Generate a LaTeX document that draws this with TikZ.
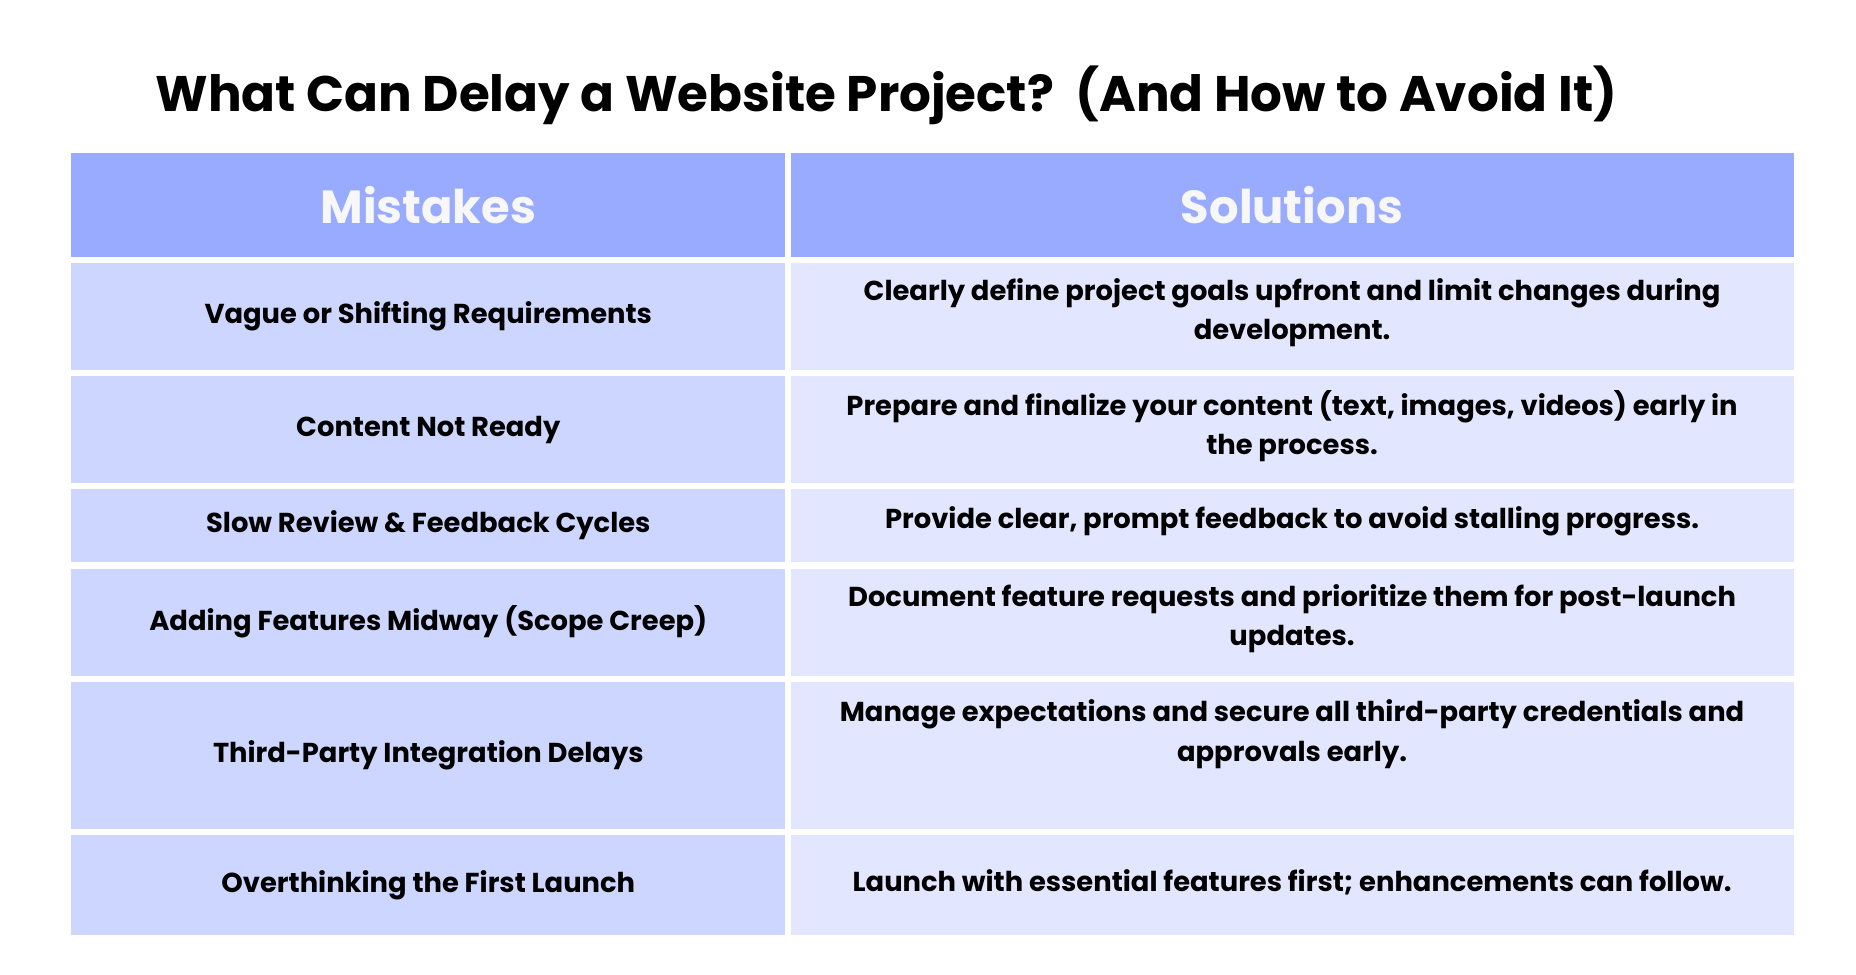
\documentclass[tikz,border=0pt]{standalone}
\usepackage{fontspec}
\setmainfont{Poppins}[BoldFont={* Bold}]
\newfontfamily\pbold{Poppins Bold}
\definecolor{hd}{HTML}{99ABFF}
\definecolor{lc}{HTML}{CDD6FF}
\definecolor{rc}{HTML}{E2E7FF}
\begin{document}
\begin{tikzpicture}[x=0.5pt,y=-0.5pt,
  hdtxt/.style={font=\pbold\fontsize{19.5}{24}\selectfont,text=white!97!black},
  ltxt/.style={font=\bfseries\fontsize{11.5}{16.5}\selectfont,align=center},
  rtxt/.style={font=\bfseries\fontsize{11.5}{16.5}\selectfont,align=center}]
\useasboundingbox[fill=white] (0,0) rectangle (1560,819.5);
\node[font=\pbold\fontsize{21}{26}\selectfont] (title) at (745,80) {What Can Delay a Website Project?\ \ (And How to Avoid It)};
\fill[hd] (60,129) rectangle (660,216);
\fill[hd] (665,129) rectangle (1508,216);
\node[hdtxt] (h1) at (360,172) {Mistakes};
\node[hdtxt] (h2) at (1086,172) {Solutions};
\foreach \t/\b/\L/\R/\ry [count=\i] in {
 221/311/{Vague or Shifting Requirements}/{Clearly define project goals upfront and limit changes during\\ development.}/263,
 316/406/{Content Not Ready}/{Prepare and finalize your content (text, images, videos) early in\\ the process.}/358,
 411/472/{Slow Review \& Feedback Cycles}/{Provide clear, prompt feedback to avoid stalling progress.}/438,
 478/568/{Adding Features Midway (Scope Creep)}/{Document feature requests and prioritize them for post-launch\\ updates.}/520,
 573/697/{Third-Party Integration Delays}/{Manage expectations and secure all third-party credentials and\\ approvals early.}/617,
 702/786/{Overthinking the First Launch}/{Launch with essential features first; enhancements can follow.}/742}{
  \fill[lc] (60,\t) rectangle (660,\b);
  \fill[rc] (665,\t) rectangle (1508,\b);
  \node[ltxt] (l\i) at (360,{(\t+\b)/2}) {\L};
  \node[rtxt] (r\i) at (1086,\ry) {\R};
}
\end{tikzpicture}
\end{document}
